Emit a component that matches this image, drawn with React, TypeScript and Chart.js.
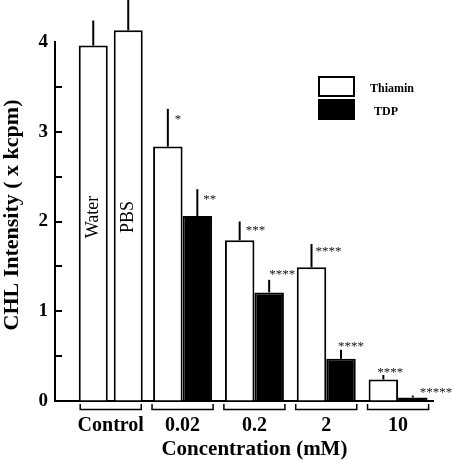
import React, { useEffect, useRef } from 'react';
import { Chart, registerables } from 'chart.js';

Chart.register(...registerables);

const FAMILY = '"Liberation Serif", "Times New Roman", serif';

// ---- data ----
const CATEGORIES = ['Control', '0.02', '0.2', '2', '10'];
const WATER = [3.96, null, null, null, null];
const WATER_ERR = [0.28, null, null, null, null];
const PBS = [4.13, null, null, null, null];
const PBS_ERR = [0.36, null, null, null, null];
const THIAMIN = [null, 2.835, 1.79, 1.49, 0.24];
const THIAMIN_ERR = [null, 0.42, 0.21, 0.26, 0.05];
const TDP = [null, 2.06, 1.21, 0.47, 0.04];
const TDP_ERR = [null, 0.3, 0.14, 0.1, 0.02];
const THIAMIN_SIG = ['', '*', '***', '****', '****'];
const TDP_SIG = ['', '**', '****', '****', '*****'];
const Y_TITLE = 'CHL Intensity ( x kcpm)';
const X_TITLE = 'Concentration (mM)';

// label placement (offsets from error-bar tip, px)
const THIAMIN_SIG_OFFSET = [null, [7, 8], [6, 6], [4, 5], [-6, -5]];
const TDP_SIG_OFFSET = [null, [6, 8], [0, -8], [-3, -6], [7, -6]];

const ERRORS = [WATER_ERR, PBS_ERR, THIAMIN_ERR, TDP_ERR];
const SIGS = [null, null, THIAMIN_SIG, TDP_SIG];
const SIG_OFFSETS = [null, null, THIAMIN_SIG_OFFSET, TDP_SIG_OFFSET];

const toPoints = (arr: (number | null)[]) => arr.map((v, i) => ({ x: i, y: v }));

const annotationsPlugin = {
  id: 'annotations',
  afterDatasetsDraw(chart: any) {
    const { ctx, chartArea } = chart;
    const xs = chart.scales.x;
    const ys = chart.scales.y;
    ctx.save();
    // error bars + significance marks
    chart.data.datasets.forEach((ds: any, di: number) => {
      const meta = chart.getDatasetMeta(di);
      const errs = ERRORS[di];
      ds.data.forEach((p: any, i: number) => {
        if (p.y == null || errs[i] == null) return;
        const bar = meta.data[i];
        const tip = ys.getPixelForValue(p.y + errs[i]);
        ctx.strokeStyle = '#000';
        ctx.lineWidth = 2;
        ctx.beginPath();
        ctx.moveTo(bar.x, bar.y);
        ctx.lineTo(bar.x, tip);
        ctx.stroke();
        const sig = SIGS[di];
        const off = SIG_OFFSETS[di];
        if (sig && sig[i] && off && off[i]) {
          ctx.fillStyle = '#111';
          ctx.font = `13px ${FAMILY}`;
          ctx.textAlign = 'left';
          ctx.textBaseline = 'alphabetic';
          ctx.fillText(sig[i], bar.x + off[i][0], tip + off[i][1] + 6);
        }
      });
    });
    // in-bar labels for control bars
    [0, 1].forEach((di) => {
      const meta = chart.getDatasetMeta(di);
      const bar = meta.data[0];
      ctx.save();
      ctx.translate(bar.x, ys.getPixelForValue(2.05));
      ctx.rotate(-Math.PI / 2);
      ctx.fillStyle = '#000';
      ctx.font = `18px ${FAMILY}`;
      ctx.textAlign = 'center';
      ctx.textBaseline = 'middle';
      ctx.fillText(chart.data.datasets[di].label, 0, 0);
      ctx.restore();
    });
    // inward y ticks
    ctx.strokeStyle = '#000';
    ctx.lineWidth = 2;
    ys.ticks.forEach((t: any) => {
      if (t.value <= 0 || t.value >= 4) return;
      const py = Math.round(ys.getPixelForValue(t.value));
      ctx.beginPath();
      ctx.moveTo(chartArea.left, py);
      ctx.lineTo(chartArea.left + 7, py);
      ctx.stroke();
    });
    // group brackets
    const step = xs.getPixelForValue(1) - xs.getPixelForValue(0);
    const half = step * 0.425;
    ctx.lineWidth = 1.5;
    CATEGORIES.forEach((_, i) => {
      const cx = xs.getPixelForValue(i);
      const b = chartArea.bottom;
      ctx.beginPath();
      ctx.moveTo(cx - half, b + 3);
      ctx.lineTo(cx - half, b + 8.5);
      ctx.lineTo(cx + half, b + 8.5);
      ctx.lineTo(cx + half, b + 3);
      ctx.stroke();
    });
    // legend
    const lx = chartArea.right - 115;
    const ly = chartArea.top + 34;
    [2, 3].forEach((di, k) => {
      const ds = chart.data.datasets[di];
      const top = ly + k * 23;
      ctx.fillStyle = ds.backgroundColor;
      ctx.fillRect(lx, top, 37, 21);
      ctx.strokeStyle = '#000';
      ctx.lineWidth = 2;
      ctx.strokeRect(lx + 1, top + 1, 35, 19);
      ctx.fillStyle = '#000';
      ctx.font = `bold 12px ${FAMILY}`;
      ctx.textAlign = 'left';
      ctx.textBaseline = 'alphabetic';
      ctx.fillText(ds.label, lx + 52 + k * 4, top + 15.5);
    });
    // axis titles
    ctx.fillStyle = '#000';
    ctx.font = `bold 22px ${FAMILY}`;
    ctx.save();
    ctx.translate(18, 215);
    ctx.rotate(-Math.PI / 2);
    ctx.textAlign = 'center';
    ctx.textBaseline = 'alphabetic';
    ctx.fillText(Y_TITLE, 0, 0);
    ctx.restore();
    ctx.font = `bold 21px ${FAMILY}`;
    ctx.textAlign = 'center';
    ctx.textBaseline = 'alphabetic';
    const xc = (xs.getPixelForValue(-0.5) + xs.getPixelForValue(CATEGORIES.length - 0.5)) / 2;
    ctx.fillText(X_TITLE, xc, 455);
    ctx.restore();
  },
};

export default function App() {
  const ref = useRef<HTMLCanvasElement>(null);
  useEffect(() => {
    if (!ref.current) return;
    const common = { borderColor: '#000', borderWidth: 2, skipNull: true, clip: false as any };
    const chart = new Chart(ref.current, {
      type: 'bar',
      data: {
        datasets: [
          { label: 'Water', data: toPoints(WATER) as any, backgroundColor: '#fff', categoryPercentage: 0.974, barPercentage: 0.829, ...common },
          { label: 'PBS', data: toPoints(PBS) as any, backgroundColor: '#fff', categoryPercentage: 0.974, barPercentage: 0.829, ...common },
          { label: 'Thiamin', data: toPoints(THIAMIN) as any, backgroundColor: '#fff', categoryPercentage: 0.821, barPercentage: 1, ...common },
          { label: 'TDP', data: toPoints(TDP) as any, backgroundColor: '#000', categoryPercentage: 0.821, barPercentage: 1, ...common },
        ],
      },
      options: {
        animation: false,
        responsive: false,
        devicePixelRatio: 1,
        layout: { padding: { top: 42, right: 19, left: 0, bottom: 0 } },
        plugins: { legend: { display: false }, tooltip: { enabled: false } },
        scales: {
          x: {
            type: 'linear',
            min: -0.776,
            max: 4.486,
            offset: false,
            afterFit: (s: any) => { s.height = 59; },
            grid: { display: true, drawOnChartArea: false, drawTicks: false, color: 'rgba(0,0,0,0)' },
            border: { display: true, color: '#000', width: 2 },
            ticks: {
              stepSize: 1,
              includeBounds: false,
              autoSkip: false,
              maxRotation: 0,
              padding: 13,
              color: '#000',
              font: { family: FAMILY, size: 20, weight: 'bold' },
              callback: (v: any) => CATEGORIES[v] ?? '',
            },
          },
          y: {
            min: 0,
            max: 4,
            afterFit: (s: any) => { s.width = 55; },
            grid: { display: true, drawOnChartArea: false, drawTicks: false, color: 'rgba(0,0,0,0)' },
            border: { display: true, color: '#000', width: 2 },
            ticks: {
              stepSize: 0.5,
              padding: 7,
              color: '#000',
              font: { family: FAMILY, size: 19, weight: 'bold' },
              callback: (v: any) => (Number.isInteger(v) ? String(v) : ''),
            },
          },
        },
      } as any,
      plugins: [annotationsPlugin],
    });
    return () => chart.destroy();
  }, []);
  return (
    <div style={{ position: 'fixed', left: 0, top: 0, width: 452, height: 460, background: '#fff' }}>
      <canvas ref={ref} width={452} height={460} style={{ width: 452, height: 460, display: 'block' }} />
    </div>
  );
}
